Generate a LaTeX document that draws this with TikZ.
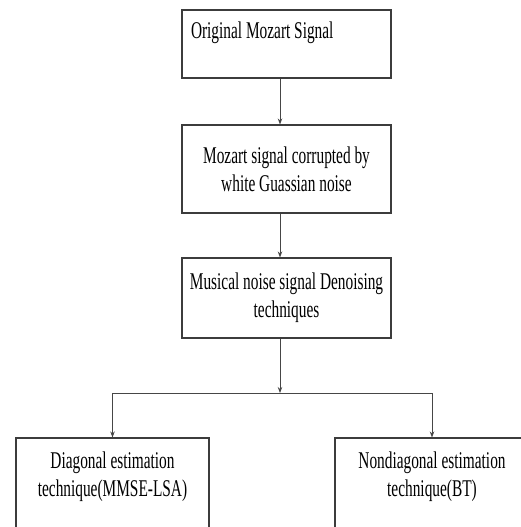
\documentclass[tikz,border=0pt]{standalone}
\usepackage{fontspec}
\setmainfont{Liberation Serif}[FakeStretch=0.64]
\usepackage{xcolor}
\usetikzlibrary{arrows.meta}
\definecolor{boxline}{RGB}{60, 60, 60}
\definecolor{arrowline}{RGB}{70, 70, 70}

\begin{document}
\begin{tikzpicture}[
    x=1pt, y=-1pt,
    box/.style={draw=boxline, line width=1.1pt, minimum width=209pt, align=center, inner sep=0pt, font=\fontsize{24}{28}\selectfont},
    arr/.style={draw=arrowline, line width=0.8pt, -{Stealth[length=6pt, width=4.5pt]}},
]
    \useasboundingbox (0,0) rectangle (521,527);
    \clip (0,0) rectangle (521,527);

    % Boxes
    \node[box, minimum height=68pt, text width=191pt, align=flush left] (orig) at (286.5,44) {Original Mozart Signal\\ \mbox{}};
    \node[box, minimum height=88pt] (noisy) at (286.5,169) {Mozart signal corrupted by\\white Guassian noise};
    \node[box, minimum height=80pt] (denoise) at (286.5,298) {Musical noise signal Denoising\\techniques};
    \node[box, minimum width=193pt, minimum height=100pt] (diag) at (112.5,488) {Diagonal estimation\\technique(MMSE-LSA)\\ \mbox{}};
    \node[box, minimum width=194pt, minimum height=100pt] (nondiag) at (432,488) {Nondiagonal estimation\\technique(BT)\\ \mbox{}};

    % Arrows
    \coordinate (split) at (280,393);
    \draw[arr] ([xshift=-6.5pt]orig.south) -- ([xshift=-6.5pt]noisy.north);
    \draw[arr] ([xshift=-6.5pt]noisy.south) -- ([xshift=-6.5pt]denoise.north);
    \draw[arr] ([xshift=-6.5pt]denoise.south) -- (split);
    \draw[arr] (split) -| (diag.north);
    \draw[arr] (split) -| (nondiag.north);
\end{tikzpicture}
\end{document}
